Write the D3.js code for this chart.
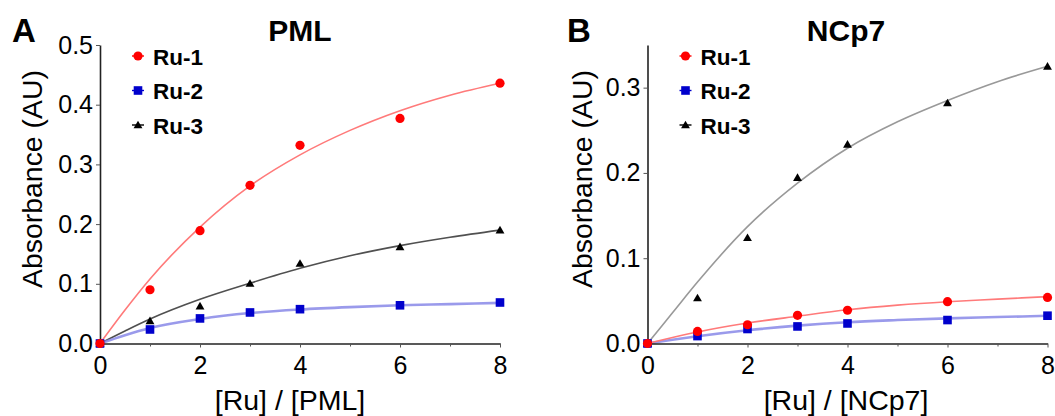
<!DOCTYPE html>
<html>
<head>
<meta charset="utf-8">
<script src="https://cdn.jsdelivr.net/npm/d3@7"></script>
<style>
  html, body { margin: 0; padding: 0; background: #fff; }
  svg { display: block; font-family: "Liberation Sans", Arial, Helvetica, sans-serif; }
</style>
</head>
<body>
<svg id="fig" width="1055" height="416"></svg>
<script>
// Titration ratios (measured points)
const ratios = [0, 1, 2, 3, 4, 6, 8];
// Ratios at which the fitted curves are sampled
const fitRatios = [0, 0.5, 1, 2, 3, 4, 5, 6, 7, 8];

const seriesNames = ["Ru-1", "Ru-2", "Ru-3"];

// Panel A: PML
const pmlRu1 = [0, 0.090, 0.189, 0.265, 0.332, 0.377, 0.436];
const pmlRu2 = [0, 0.0235, 0.042, 0.052, 0.0575, 0.064, 0.0687];
const pmlRu3 = [0, 0.038, 0.0625, 0.1005, 0.134, 0.162, 0.190];
const pmlFitRu1 = [0, 0.056, 0.108, 0.195, 0.264, 0.316, 0.357, 0.390, 0.416, 0.436];
const pmlFitRu2 = [0, 0.014, 0.026, 0.041, 0.051, 0.057, 0.061, 0.064, 0.066, 0.068];
const pmlFitRu3 = [0, 0.021, 0.041, 0.074, 0.101, 0.126, 0.147, 0.164, 0.178, 0.190];

// Panel B: NCp7
const ncRu1 = [0, 0.0141, 0.022, 0.033, 0.039, 0.049, 0.054];
const ncRu2 = [0, 0.0087, 0.017, 0.020, 0.0235, 0.0275, 0.0326];
const ncRu3 = [0, 0.0534, 0.124, 0.1945, 0.2336, 0.282, 0.325];
const ncFitRu1 = [0, 0.007, 0.0135, 0.024, 0.032, 0.0395, 0.045, 0.049, 0.052, 0.055];
const ncFitRu2 = [0, 0.0045, 0.0085, 0.0155, 0.021, 0.025, 0.0275, 0.0295, 0.031, 0.0325];
const ncFitRu3 = [0, 0.036, 0.072, 0.137, 0.188, 0.229, 0.260, 0.285, 0.307, 0.325];

const xTicks = [0, 2, 4, 6, 8];
const xMinorTicks = [1, 3, 5, 7];
const pmlYTicks = [0, 0.1, 0.2, 0.3, 0.4, 0.5];
const ncYTicks = [0, 0.1, 0.2, 0.3];

const svg = d3.select("#fig");

const styles = {
  "Ru-1": { fill: "#ff0000", curve: "#ff7a7a", curveWidth: 1.6, shape: "circle" },
  "Ru-2": { fill: "#0000cc", curve: "#8888e8", curveWidth: 2.6, shape: "square" },
  "Ru-3": { fill: "#000000", curve: null, curveWidth: 1.6, shape: "triangle" }
};

function drawMarker(g, shape, cx, cy, color) {
  if (shape === "circle") {
    g.append("circle").attr("cx", cx).attr("cy", cy).attr("r", 4.6).attr("fill", color);
  } else if (shape === "square") {
    g.append("rect").attr("x", cx - 4.3).attr("y", cy - 4.3).attr("width", 8.6).attr("height", 8.6).attr("fill", color);
  } else {
    const sym = d3.symbol().type(d3.symbolTriangle).size(34);
    g.append("path").attr("d", sym()).attr("transform", `translate(${cx},${cy + 0.8})`).attr("fill", color);
  }
}

function panel(opts) {
  const x = d3.scaleLinear().domain([0, 8]).range([opts.left, opts.left + 400]);
  const y = d3.scaleLinear().domain([0, opts.yMax]).range([343.5, 45]);
  const g = svg.append("g");

  // fitted curves
  const line = d3.line().x((d, i) => x(fitRatios[i])).y(d => y(d)).curve(d3.curveMonotoneX);
  opts.series.forEach(s => {
    g.append("path").attr("d", line(s.fit)).attr("fill", "none")
      .attr("stroke", s.curveColor).attr("stroke-width", styles[s.name].curveWidth)
      .attr("stroke-opacity", s.name === "Ru-2" ? 0.85 : 1);
  });

  // axes
  const xAxis = g.append("g").attr("transform", `translate(0,${y(0)})`)
    .call(d3.axisBottom(x).tickValues(xTicks).tickSize(4).tickPadding(9).tickSizeOuter(0));
  g.append("g").attr("transform", `translate(0,${y(0)})`)
    .call(d3.axisBottom(x).tickValues(xMinorTicks).tickSize(3).tickFormat("").tickSizeOuter(0))
    .select(".domain").remove();
  const yAxis = g.append("g").attr("transform", `translate(${x(0)},0)`)
    .call(d3.axisLeft(y).tickValues(opts.yTicks).tickFormat(d3.format(".1f")).tickSize(4).tickPadding(3).tickSizeOuter(0));
  g.selectAll(".domain").attr("stroke", "#222").attr("stroke-width", 1.6);
  g.selectAll(".tick line").attr("stroke", "#555").attr("stroke-width", 1);
  g.selectAll(".tick text").attr("font-size", 25).attr("fill", "#000")
    .attr("font-family", "'Liberation Sans', Arial, sans-serif");

  // data points
  opts.series.forEach(s => {
    const mg = g.append("g");
    s.values.forEach((v, i) => drawMarker(mg, styles[s.name].shape, x(ratios[i]), y(v), styles[s.name].fill));
  });

  // legend
  opts.series.slice().sort((a, b) => seriesNames.indexOf(a.name) - seriesNames.indexOf(b.name)).forEach((s, i) => {
    const ly = 56 + i * 34.5;
    const lx = opts.left + 38;
    g.append("line").attr("x1", lx - 6).attr("x2", lx + 6).attr("y1", ly).attr("y2", ly)
      .attr("stroke", styles[s.name].fill).attr("stroke-width", 1.4);
    drawMarker(g, styles[s.name].shape, lx, ly, styles[s.name].fill);
    g.append("text").attr("x", lx + 15).attr("y", ly + 8.5).text(s.name)
      .attr("font-size", 22.5).attr("font-weight", "bold");
  });

  // titles and labels
  g.append("text").attr("x", opts.titleX).attr("y", 41).attr("text-anchor", "middle")
    .attr("font-size", 30).attr("font-weight", "bold").text(opts.title);
  g.append("text").attr("x", opts.letterX).attr("y", 41.7)
    .attr("font-size", 33).attr("font-weight", "bold").text(opts.letter);
  g.append("text").attr("x", opts.xTitleX).attr("y", 410).attr("text-anchor", "middle")
    .attr("font-size", 28.5).text(opts.xTitle);
  g.append("text").attr("transform", `translate(${opts.yTitleX},179) rotate(-90)`)
    .attr("text-anchor", "middle").attr("font-size", 28.4).text("Absorbance (AU)");
}

panel({
  left: 100, yMax: 0.5, yTicks: pmlYTicks,
  title: "PML", titleX: 300, letter: "A", letterX: 12,
  xTitle: "[Ru] / [PML]", xTitleX: 290, yTitleX: 41.5,
  series: [
    { name: "Ru-3", values: pmlRu3, fit: pmlFitRu3, curveColor: "#505050" },
    { name: "Ru-2", values: pmlRu2, fit: pmlFitRu2, curveColor: "#8888e8" },
    { name: "Ru-1", values: pmlRu1, fit: pmlFitRu1, curveColor: "#ff7a7a" }
  ]
});

panel({
  left: 647.5, yMax: 0.35, yTicks: ncYTicks,
  title: "NCp7", titleX: 846, letter: "B", letterX: 567,
  xTitle: "[Ru] / [NCp7]", xTitleX: 846, yTitleX: 592,
  series: [
    { name: "Ru-3", values: ncRu3, fit: ncFitRu3, curveColor: "#999999" },
    { name: "Ru-2", values: ncRu2, fit: ncFitRu2, curveColor: "#8888e8" },
    { name: "Ru-1", values: ncRu1, fit: ncFitRu1, curveColor: "#ff7a7a" }
  ]
});
</script>
</body>
</html>
